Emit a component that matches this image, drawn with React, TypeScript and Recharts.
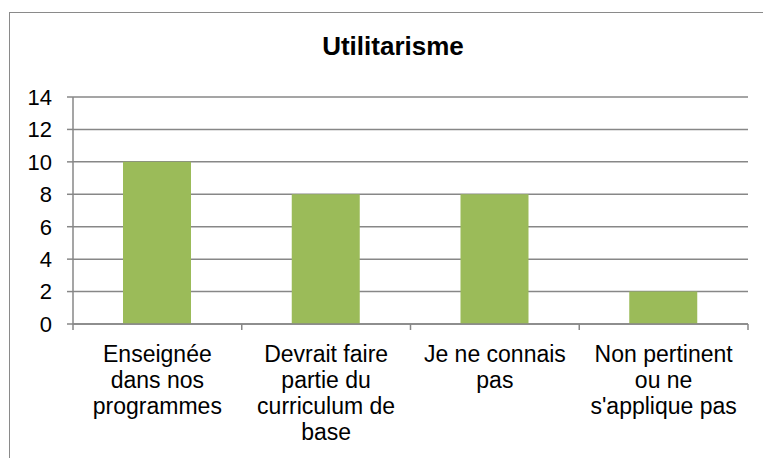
import React from "react"
import { Bar, BarChart, CartesianGrid, XAxis, YAxis } from "recharts"

const categories = [
  "Enseignée dans nos programmes",
  "Devrait faire partie du curriculum de base",
  "Je ne connais pas",
  "Non pertinent ou ne s'applique pas",
]

// how each category label wraps under the axis
const categoryLines = [
  ["Enseignée", "dans nos", "programmes"],
  ["Devrait faire", "partie du", "curriculum de", "base"],
  ["Je ne connais", "pas"],
  ["Non pertinent", "ou ne", "s'applique pas"],
]

const values = [10, 8, 8, 2]

const yTicks = [0, 2, 4, 6, 8, 10, 12, 14]

const data = categories.map((name, i) => ({ name, value: values[i], lines: categoryLines[i] }))

const FONT = "'Liberation Sans', Arial, sans-serif"
const GRID = "#878787"
const BAR = "#9BBB59"

const CategoryTick = (props: any) => {
  const { x, y, payload, index } = props
  const half = payload?.offset ?? 84
  const lines = categoryLines[index] ?? [String(payload.value)]
  const last = index === categories.length - 1
  return (
    <g>
      <line x1={x - half} x2={x - half} y1={y} y2={y + 6} stroke={GRID} strokeWidth={1.5} />
      {last && <line x1={x + half} x2={x + half} y1={y} y2={y + 6} stroke={GRID} strokeWidth={1.5} />}
      <text x={x} y={y + 38} textAnchor="middle" fontSize={23} fontFamily={FONT} fill="#000">
        {lines.map((l: string, i: number) => (
          <tspan key={i} x={x} dy={i === 0 ? 0 : 26}>
            {l}
          </tspan>
        ))}
      </text>
    </g>
  )
}

export default function App() {
  return (
    <div style={{ position: "absolute", left: 0, top: 0, width: 763, height: 458, overflow: "hidden", background: "#fff" }}>
      <div
        style={{
          position: "absolute",
          left: 9,
          top: 12,
          width: 820,
          height: 520,
          border: "1.5px solid #8a8a8a",
        }}
      />
      <div
        style={{
          position: "absolute",
          left: 0,
          top: 31,
          width: 786,
          textAlign: "center",
          fontFamily: FONT,
          fontWeight: 700,
          fontSize: 26,
          lineHeight: "30px",
          color: "#000",
        }}
      >
        Utilitarisme
      </div>
      <div style={{ position: "absolute", left: 0, top: 0 }}>
        <BarChart width={763} height={458} data={data} margin={{ top: 97, right: 15, left: 0, bottom: 0 }}>
          <CartesianGrid vertical={false} stroke={GRID} strokeWidth={1.5} />
          <XAxis
            dataKey="name"
            height={134}
            interval={0}
            tickSize={0}
            tickMargin={0}
            tickLine={false}
            axisLine={{ stroke: GRID, strokeWidth: 1.5 }}
            tick={<CategoryTick />}
          />
          <YAxis
            width={73}
            domain={[0, 14]}
            ticks={yTicks}
            interval={0}
            tickSize={6}
            tickMargin={15}
            axisLine={{ stroke: GRID, strokeWidth: 1.5 }}
            tickLine={{ stroke: GRID, strokeWidth: 1.5 }}
            tick={{ fontSize: 22, fontFamily: FONT, fill: "#000" }}
          />
          <Bar dataKey="value" fill={BAR} barSize={68} isAnimationActive={false} />
        </BarChart>
      </div>
    </div>
  )
}
